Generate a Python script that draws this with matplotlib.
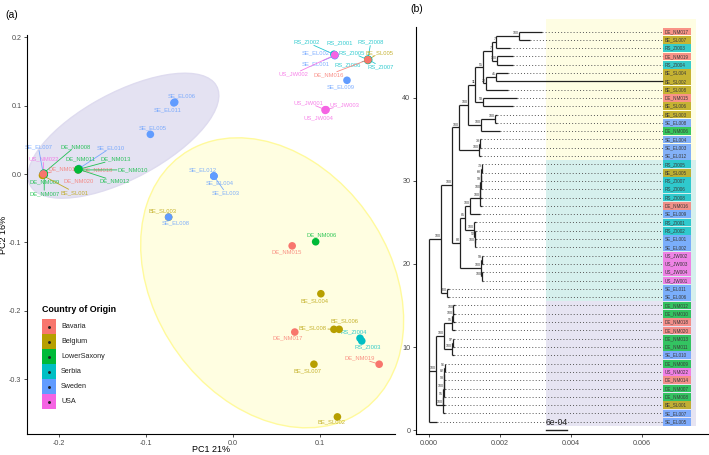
import numpy as np
import matplotlib.pyplot as plt
from matplotlib.patches import Ellipse, Rectangle

plt.rcParams['font.family'] = ['Liberation Sans', 'DejaVu Sans']
plt.rcParams['axes.unicode_minus'] = False

# ---------------- data ----------------
countries = ['Bavaria', 'Belgium', 'LowerSaxony', 'Serbia', 'Sweden', 'USA']
country_colors = ['#F8766D', '#B79F00', '#00BA38', '#00BFC4', '#619CFF', '#F564E3']

samples = ['DE_NM009', 'US_NM022', 'DE_NM007', 'DE_NM008', 'SE_EL007', 'BE_SL001', 'DE_NM014',
           'DE_NM018', 'DE_NM020', 'SE_EL010', 'DE_NM011', 'DE_NM013', 'DE_NM010', 'DE_NM012',
           'SE_EL005', 'SE_EL006', 'SE_EL011',
           'RS_ZI001', 'RS_ZI002', 'SE_EL001', 'SE_EL002', 'US_JW002',
           'RS_ZI005', 'RS_ZI006', 'RS_ZI007', 'RS_ZI008', 'BE_SL005', 'DE_NM016',
           'SE_EL009', 'US_JW001', 'US_JW003', 'US_JW004',
           'SE_EL012', 'SE_EL004', 'SE_EL003', 'BE_SL003', 'SE_EL008',
           'DE_NM006', 'DE_NM015', 'BE_SL004', 'BE_SL008', 'BE_SL006', 'DE_NM017',
           'RS_ZI004', 'RS_ZI003', 'DE_NM019', 'BE_SL007', 'BE_SL002']
origin = ['LowerSaxony', 'USA', 'LowerSaxony', 'LowerSaxony', 'Sweden', 'Belgium', 'Bavaria',
          'Bavaria', 'Bavaria', 'Sweden', 'LowerSaxony', 'LowerSaxony', 'LowerSaxony', 'LowerSaxony',
          'Sweden', 'Sweden', 'Sweden',
          'Serbia', 'Serbia', 'Sweden', 'Sweden', 'USA',
          'Serbia', 'Serbia', 'Serbia', 'Serbia', 'Belgium', 'Bavaria',
          'Sweden', 'USA', 'USA', 'USA',
          'Sweden', 'Sweden', 'Sweden', 'Belgium', 'Sweden',
          'LowerSaxony', 'Bavaria', 'Belgium', 'Belgium', 'Belgium', 'Bavaria',
          'Serbia', 'Serbia', 'Bavaria', 'Belgium', 'Belgium']
pc1 = [-0.217, -0.218, -0.217, -0.218, -0.218, -0.219, -0.218,
       -0.178, -0.178, -0.177, -0.178, -0.177, -0.178, -0.178,
       -0.095, -0.067, -0.068,
       0.117, 0.116, 0.117, 0.117, 0.117,
       0.155, 0.155, 0.156, 0.155, 0.155, 0.155,
       0.131, 0.106, 0.107, 0.106,
       -0.022, -0.022, -0.022, -0.074, -0.074,
       0.095, 0.068, 0.101, 0.116, 0.122, 0.071,
       0.146, 0.148, 0.168, 0.093, 0.120]
pc2 = [0.001, 0.000, -0.001, 0.001, 0.000, -0.002, 0.000,
       0.006, 0.007, 0.008, 0.007, 0.007, 0.006, 0.007,
       0.058, 0.105, 0.104,
       0.174, 0.175, 0.173, 0.174, 0.174,
       0.167, 0.166, 0.167, 0.168, 0.167, 0.167,
       0.137, 0.094, 0.094, 0.093,
       -0.003, -0.003, -0.003, -0.063, -0.063,
       -0.099, -0.105, -0.175, -0.227, -0.227, -0.231,
       -0.240, -0.244, -0.278, -0.278, -0.355]

# 95% ellipses of the two tree groups
ellipse_centers = [(-0.126, 0.056), (0.045, -0.159)]
ellipse_widths = [0.260, 0.437]
ellipse_heights = [0.118, 0.283]
ellipse_angles = [37, 108.6]

# phylogeny: internal node = (bootstrap, depth [1e-4], children), tip = (name, depth [1e-4])
tree = (None, 0.0, [
    (100, 3.4, [
        (100, 6.5, [
            (100, 8.5, [
                (100, 11.0, [
                    (11, 13.0, [
                        (55, 15.2, [
                            (7, 17.7, [
                                (7, 18.9, [
                                    (100, 25.4, [('DE_NM017', 31.8), ('BE_SL007', 28.5)]),
                                    ('RS_ZI003', 22.8)]),
                                (100, 19.2, [('DE_NM019', 23.7), ('RS_ZI004', 23.7)])]),
                            (22, 16.1, [
                                (41, 18.9, [('BE_SL004', 22.3), ('BE_SL002', 65.9)]),
                                ('BE_SL008', 22.3)])]),
                        (58, 15.2, [('DE_NM015', 24.8), ('BE_SL006', 23.7)])]),
                    (100, 14.6, [
                        (100, 18.6, [('BE_SL003', 19.2), ('SE_EL008', 19.2)]),
                        ('DE_NM006', 20.0)])]),
                (100, 14.1, [
                    (33, 14.4, [('SE_EL004', 14.6), ('SE_EL003', 14.6)]),
                    ('SE_EL012', 14.6)])]),
            (80, 8.7, [
                (85, 10.1, [
                    (100, 11.5, [
                        (100, 14.4, [
                            (100, 14.5, [
                                (99, 14.6, [
                                    (68, 14.7, [
                                        (73, 14.8, [('RS_ZI005', 15.0), ('BE_SL005', 15.0)]),
                                        ('RS_ZI007', 15.0)]),
                                    ('RS_ZI006', 15.0)]),
                                ('RS_ZI008', 15.0)]),
                            ('DE_NM016', 15.0)]),
                        ('SE_EL009', 14.4)]),
                    (100, 12.7, [
                        ('RS_ZI001', 13.2),
                        (52, 12.9, [
                            ('RS_ZI002', 13.2),
                            (100, 13.0, [('SE_EL001', 13.2), ('SE_EL002', 13.2)])])])]),
                (100, 14.6, [
                    (99, 14.9, [('US_JW002', 15.2), ('US_JW003', 15.2)]),
                    (100, 14.9, [('US_JW004', 15.2), ('US_JW001', 15.2)])])])]),
        (100, 5.1, [('SE_EL011', 5.6), ('SE_EL006', 5.6)])]),
    (100, 2.0, [
        (100, 4.2, [
            (95, 6.5, [
                (100, 6.7, [
                    (100, 6.9, [('DE_NM012', 7.3), ('DE_NM010', 7.3)]),
                    ('DE_NM018', 7.3)]),
                ('DE_NM020', 7.3)]),
            (100, 6.5, [
                (97, 6.8, [('DE_NM013', 7.0), ('DE_NM011', 7.0)]),
                ('SE_EL010', 7.0)])]),
        (100, 3.9, [
            (95, 4.0, [
                (100, 4.1, [
                    (98, 4.2, [
                        (82, 4.3, [
                            (96, 4.4, [('DE_NM009', 4.6), ('US_NM022', 4.6)]),
                            ('DE_NM014', 4.6)]),
                        ('DE_NM007', 4.6)]),
                    ('DE_NM008', 4.6)]),
                ('BE_SL001', 4.6)]),
            ('SE_EL007', 4.6)])]),
    ('SE_EL005', 2.3)])

# highlighted clades (tip index ranges, y from bottom)
clade_ymin = [32.5, 15.5, 0.5]
clade_ymax = [49.5, 32.5, 15.5]
clade_colors = ['#FEFDE3', '#D6F0ED', '#E6E4F2']

# ------------- label placement (pixel offsets, y down) -------------
label_offsets = {
    'DE_NM009': (0, 8), 'US_NM022': (0, -15), 'DE_NM007': (0, 19), 'DE_NM008': (32, -27),
    'SE_EL007': (-5, -27), 'BE_SL001': (32, 17), 'DE_NM014': (20, -5),
    'DE_NM018': (20, 0), 'DE_NM020': (0, 12), 'SE_EL010': (32, -21), 'DE_NM011': (2, -10),
    'DE_NM013': (37, -10), 'DE_NM010': (55, 0), 'DE_NM012': (37, 12),
    'SE_EL005': (2, -7), 'SE_EL006': (7, -6), 'SE_EL011': (-6, 7),
    'RS_ZI001': (5, -12), 'RS_ZI002': (-27, -12), 'SE_EL001': (-19, 8), 'SE_EL002': (-19, -2),
    'US_JW002': (-41, 19), 'RS_ZI005': (-16, -7), 'RS_ZI006': (-20, 4), 'RS_ZI007': (12, 7),
    'RS_ZI008': (3, -17), 'BE_SL005': (12, -7), 'DE_NM016': (-39, 15),
    'SE_EL009': (-6, 7), 'US_JW001': (-17, -7), 'US_JW003': (18, -5), 'US_JW004': (-7, 7),
    'SE_EL012': (-11, -6), 'SE_EL004': (6, 7), 'SE_EL003': (12, 17), 'BE_SL003': (-6, -6),
    'SE_EL008': (7, 6), 'DE_NM006': (6, -7), 'DE_NM015': (-5, 6), 'BE_SL004': (-6, 7),
    'BE_SL008': (-21, -1), 'BE_SL006': (5, -8), 'DE_NM017': (-7, 6), 'RS_ZI004': (-6, -6),
    'RS_ZI003': (6, 6), 'DE_NM019': (-19, -6), 'BE_SL007': (-6, 7), 'BE_SL002': (-6, 5),
}

col_of = dict(zip(countries, country_colors))
sample_col = {s: col_of[o] for s, o in zip(samples, origin)}

fig = plt.figure(figsize=(7.09, 4.55), dpi=100)
ax = fig.add_axes([27 / 709, 21 / 455, 368 / 709, 399 / 455])
tx = fig.add_axes([416 / 709, 21 / 455, 292 / 709, 407 / 455])


def style_axis(a):
    for s in ['top', 'right']:
        a.spines[s].set_visible(False)
    for s in ['left', 'bottom']:
        a.spines[s].set_linewidth(0.8)
    a.tick_params(length=2.5, width=0.6, color='#333333', labelsize=5.2, labelcolor='#4D4D4D', pad=1.5)


# ---------------- panel (a): PCA ----------------
ell_fc = ['#E4E2F2', '#FFFEE1']
ell_ec = ['#DEDBEF', '#FFFA9C']
for c, w, h, ang, fc, ec in zip(ellipse_centers, ellipse_widths, ellipse_heights, ellipse_angles, ell_fc, ell_ec):
    ax.add_patch(Ellipse(c, w, h, angle=ang, fc=fc, ec=ec, lw=1.0, zorder=0, clip_on=False))

for s, x, y in zip(samples, pc1, pc2):
    dx, dy = label_offsets[s]
    c = sample_col[s]
    ap = None
    if np.hypot(dx, dy) > 13:
        ap = dict(arrowstyle='-', color=c, lw=0.6, alpha=0.85, shrinkA=0.5, shrinkB=0)
    ax.annotate(s, (x, y), xytext=(dx * 0.72, -dy * 0.72), textcoords='offset points',
                ha='center', va='center', fontsize=4.2, color=c, alpha=0.8, zorder=2,
                bbox=dict(boxstyle='square,pad=0.05', fc='none', ec='none'), arrowprops=ap)

ax.scatter(pc1, pc2, s=30, c=[sample_col[s] for s in samples], edgecolors='none', zorder=3)

ax.set_xlim(-0.2368, 0.1862)
ax.set_ylim(-0.380, 0.2032)
ax.set_xticks([-0.2, -0.1, 0.0, 0.1])
ax.set_yticks([-0.3, -0.2, -0.1, 0.0, 0.1, 0.2])
ax.xaxis.set_major_formatter('{x:.1f}')
ax.yaxis.set_major_formatter('{x:.1f}')
style_axis(ax)
ax.set_xlabel('PC1 21%', fontsize=6.5, va='center')
ax.set_ylabel('PC2 16%', fontsize=6.5, va='center')
ax.xaxis.set_label_coords(0.5, -0.038)
ax.yaxis.set_label_coords(-0.064, 0.5)

# legend (ggplot style keys, stacked without gaps)
ax.text(0.041, 0.311, 'Country of Origin', transform=ax.transAxes, fontsize=6.4,
        fontweight='bold', ha='left', va='center')
key_w, key_h, key_top = 14 / 368, 15 / 399, 0.2882
for i, (name, c) in enumerate(zip(countries, country_colors)):
    y0 = key_top - (i + 1) * key_h
    ax.add_patch(Rectangle((0.041, y0), key_w, key_h, transform=ax.transAxes, fc=c, ec='none', zorder=4))
    ax.plot(0.041 + key_w / 2, y0 + key_h / 2, 'o', ms=1.1, color='#222222', transform=ax.transAxes, zorder=5)
    ax.text(0.041 + key_w + 5 / 368, y0 + key_h / 2, name, transform=ax.transAxes, fontsize=5.2,
            ha='left', va='center', color='#222222')

# ---------------- panel (b): tree ----------------
def count_tips(node):
    if len(node) == 2:
        return 1
    return sum(count_tips(k) for k in node[2])


label_x = 0.00659
next_y = [count_tips(tree)]


def draw(node):
    if len(node) == 2:
        name, depth = node
        x, y = depth * 1e-4, next_y[0]
        next_y[0] -= 1
        if x < label_x:
            tx.plot([x, label_x], [y, y], ls=(0, (1, 2.2)), lw=0.7, color='#555555', zorder=2)
        tx.add_patch(Rectangle((label_x, y - 0.47), 0.0008, 0.94, fc=sample_col[name], ec='none',
                               alpha=0.78, zorder=3))
        tx.text(label_x + 0.00004, y, name, fontsize=3.3, va='center', ha='left', color='#3A3A3A', zorder=4)
        return x, y
    support, depth, kids = node
    pos = [draw(k) for k in kids]
    x = depth * 1e-4
    ys = [p[1] for p in pos]
    y = np.mean(ys)
    tx.vlines(x, min(ys), max(ys), color='#222222', lw=0.9, zorder=3)
    for cx, cy in pos:
        tx.hlines(cy, x, cx, color='#222222', lw=0.9, zorder=3)
    if support is not None:
        tx.text(x, y + 0.1, str(support), fontsize=2.6, ha='right', va='bottom', color='#333333', zorder=4)
    return x, y


for y0, y1, c in zip(clade_ymin, clade_ymax, clade_colors):
    tx.add_patch(Rectangle((0.0033, y0), 0.00752 - 0.0033, y1 - y0, fc=c, ec='none', zorder=0, clip_on=False))

draw(tree)

# scale bar
tx.plot([0.0033, 0.0039], [0.05, 0.05], color='#222222', lw=1.0, zorder=4)
tx.text(0.0036, 0.35, '6e-04', fontsize=6.2, ha='center', va='bottom', color='#222222', zorder=4)

tx.set_xlim(-0.000366, 0.00786)
tx.set_ylim(-0.48, 48.55)
tx.set_xticks([0.000, 0.002, 0.004, 0.006])
tx.set_yticks([0, 10, 20, 30, 40])
tx.xaxis.set_major_formatter('{x:.3f}')
style_axis(tx)

fig.text(12 / 709, 1 - 15 / 455, '(a)', fontsize=7.5, ha='center', va='center')
fig.text(417 / 709, 1 - 9 / 455, '(b)', fontsize=7.5, ha='center', va='center')

fig.savefig('out.png', dpi=100)
